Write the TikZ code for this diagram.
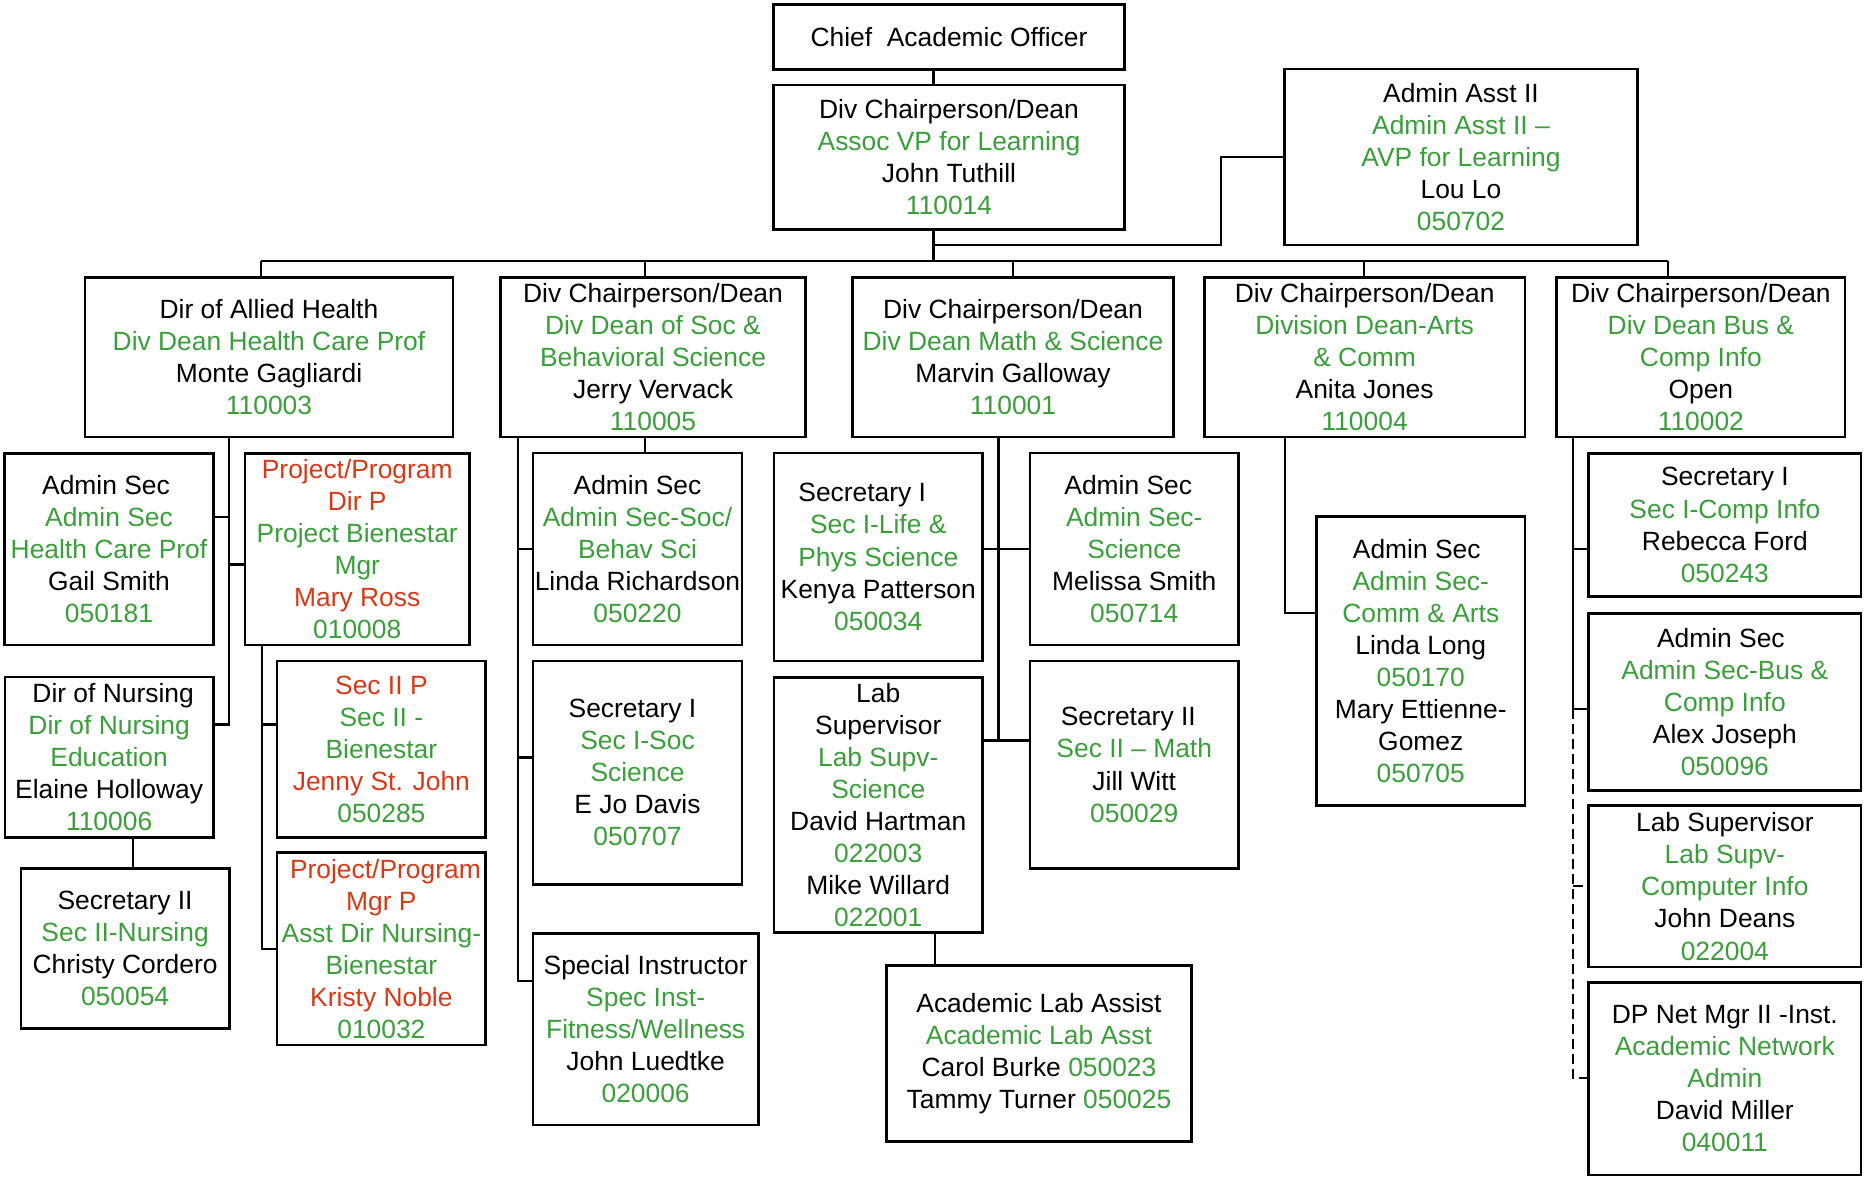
\documentclass[tikz,border=0pt]{standalone}
\usepackage{fontspec}
\setmainfont{Liberation Sans}
\definecolor{ogreen}{RGB}{58,158,58}
\definecolor{ored}{RGB}{216,56,22}
\newcommand\gtxt[1]{\textcolor{ogreen}{#1}}
\newcommand\rtxt[1]{\textcolor{ored}{#1}}
\newcommand\obox[6]{\node[obox, minimum width={(#4-#2)*0.5pt}, minimum height={(#5-#3)*0.5pt}] (#1) at ({(#2+#4)/2},{(#3+#5)/2}) {#6};}
\begin{document}
\begin{tikzpicture}[x=0.5pt,y=-0.5pt,
  obox/.style={draw, line width=1.4pt, inner sep=0pt, align=center, font=\fontsize{13.2}{16.05}\selectfont},
  conn/.style={line width=1.1pt},
  dconn/.style={line width=1.1pt, dash pattern=on 5pt off 2.5pt}]
\useasboundingbox (0,0) rectangle (1865,1177);
% top
\obox{cao}{773.4}{4.7}{1124.6}{69.3}{Chief~~Academic Officer}
\obox{tut}{773.4}{85}{1124.6}{229.3}{Div Chairperson/Dean\\\gtxt{Assoc VP for Learning}\\John Tuthill\\\gtxt{110014}}
\obox{lou}{1284.7}{69}{1637.2}{245}{Admin Asst II\\\gtxt{Admin Asst II –}\\\gtxt{AVP for Learning}\\Lou Lo\\\gtxt{050702}}
% second level
\obox{ah}{85}{277.3}{453}{437}{Dir of Allied Health\\\gtxt{Div Dean Health Care Prof}\\Monte Gagliardi\\\gtxt{110003}}
\obox{soc}{500.7}{277.3}{805.3}{437}{Div Chairperson/Dean\\\gtxt{Div Dean of Soc \&}\\\gtxt{Behavioral Science}\\Jerry Vervack\\\gtxt{110005}}
\obox{math}{852.7}{277.3}{1173.3}{437}{Div Chairperson/Dean\\\gtxt{Div Dean Math \& Science}\\Marvin Galloway\\\gtxt{110001}}
\obox{arts}{1204.3}{277.3}{1525}{437}{Div Chairperson/Dean\\\gtxt{Division Dean-Arts}\\\gtxt{\& Comm}\\Anita Jones\\\gtxt{110004}}
\obox{bus}{1556.7}{277.3}{1845}{437}{Div Chairperson/Dean\\\gtxt{Div Dean Bus \&}\\\gtxt{Comp Info}\\Open\\\gtxt{110002}}
% allied health
\obox{ash}{4.7}{453.3}{213.3}{645}{Admin Sec\hspace*{3pt}\\\gtxt{Admin Sec}\\\gtxt{Health Care Prof}\\Gail Smith\\\gtxt{050181}}
\obox{ppd}{245}{453.3}{469.5}{645}{\rtxt{Project/Program}\\\rtxt{Dir P}\\\gtxt{Project Bienestar}\\\gtxt{Mgr}\\\rtxt{Mary Ross}\\\gtxt{010008}}
\obox{dn}{5}{677}{213.3}{837.3}{\hspace*{4pt}Dir of Nursing\\\gtxt{Dir of Nursing}\\\gtxt{Education}\\Elaine Holloway\\\gtxt{110006}}
\obox{s2n}{21}{868.8}{229.2}{1028.6}{Secretary II\\\gtxt{Sec II-Nursing}\\Christy Cordero\\\gtxt{050054}}
\obox{s2p}{277}{661}{485.8}{837.3}{\rtxt{Sec II P}\\\gtxt{Sec II -}\\\gtxt{Bienestar}\\\rtxt{Jenny St. John}\\\gtxt{050285}}
\obox{ppm}{277}{852.8}{485.8}{1045}{\hspace*{4pt}\rtxt{Project/Program}\\\rtxt{Mgr P}\\\gtxt{Asst Dir Nursing-}\\\gtxt{Bienestar}\\\rtxt{Kristy Noble}\\\gtxt{010032}}
% soc
\obox{ass}{533}{453}{742}{645}{Admin Sec\\\gtxt{Admin Sec-Soc/}\\\gtxt{Behav Sci}\\Linda Richardson\\\gtxt{050220}}
\obox{s1s}{533}{661}{742}{884.3}{Secretary I\hspace*{5pt}\\\gtxt{Sec I-Soc}\hspace*{3pt}\\\gtxt{Science}\hspace*{10pt}\\E Jo Davis\\\gtxt{050707}}
\obox{spi}{533}{933.6}{758.3}{1125}{Special Instructor\\\gtxt{Spec Inst-}\\\gtxt{Fitness/Wellness}\\John Luedtke\\\gtxt{020006}}
% math
\obox{s1l}{774}{453}{982.5}{661}{Secretary I\hspace*{16pt}\\\gtxt{Sec I-Life \&}\hspace*{4pt}\\\gtxt{Phys Science}\\Kenya Patterson\\\gtxt{050034}}
\obox{lab}{774}{677.4}{982.5}{932.7}{Lab\\Supervisor\hspace*{5pt}\\\gtxt{Lab Supv-}\\\gtxt{Science}\\David Hartman\\\gtxt{022003}\\Mike Willard\\\gtxt{022001}}
\obox{ala}{886.4}{965.2}{1191.5}{1141.5}{Academic Lab Assist\\\gtxt{Academic Lab Asst}\hspace*{6pt}\\Carol Burke \gtxt{050023}\\Tammy Turner \gtxt{050025}}
\obox{asm}{1030}{453}{1238.5}{645}{Admin Sec\hspace*{6pt}\\\gtxt{Admin Sec-}\\\gtxt{Science}\\Melissa Smith\\\gtxt{050714}}
\obox{s2m}{1030}{661}{1238.5}{868.8}{Secretary II\hspace*{6pt}\\\gtxt{Sec II – Math}\\Jill Witt\\\gtxt{050029}}
% arts
\obox{asc}{1316.5}{516.5}{1525}{805.8}{Admin Sec\hspace*{4pt}\\\gtxt{Admin Sec-}\\\gtxt{Comm \& Arts}\\Linda Long\\\gtxt{050170}\\Mary Ettienne-\\Gomez\\\gtxt{050705}}
% bus
\obox{s1c}{1588.7}{453.3}{1861}{596.7}{Secretary I\\\gtxt{Sec I-Comp Info}\\Rebecca Ford\\\gtxt{050243}}
\obox{asb}{1588.7}{613.3}{1861}{790.3}{Admin Sec\hspace*{4pt}\\\gtxt{Admin Sec-Bus \&}\\\gtxt{Comp Info}\\Alex Joseph\\\gtxt{050096}}
\obox{lsc}{1588.7}{805.8}{1861}{967}{Lab Supervisor\\\gtxt{Lab Supv-}\\\gtxt{Computer Info}\\John Deans\\\gtxt{022004}}
\obox{dpn}{1588.7}{982.4}{1861}{1175}{DP Net Mgr II -Inst.\\\gtxt{Academic Network}\\\gtxt{Admin}\\David Miller\\\gtxt{040011}}
% ---- connectors
\coordinate (sp) at (933.5,261);
\draw[conn] (cao.south -| sp) -- (tut.north -| sp);
\draw[conn] (tut.south -| sp) -- (sp);
\coordinate (louK) at (1220.6,245);
\draw[conn] (lou.west) -- (lou.west -| louK) -- (louK) -- (louK -| sp);
\coordinate (busL) at (261,261);
\coordinate (busR) at (1668.3,261);
\draw[conn] (busL) -- (busR);
\draw[conn] (busL) -- (busL |- ah.north);
\coordinate (bsoc) at (645,261);
\draw[conn] (bsoc) -- (bsoc |- soc.north);
\coordinate (bmath) at (1013.3,261);
\draw[conn] (bmath) -- (bmath |- math.north);
\coordinate (barts) at (1364.3,261);
\draw[conn] (barts) -- (barts |- arts.north);
\draw[conn] (busR) -- (busR |- bus.north);
% allied health
\coordinate (ahX) at (229,724.4);
\draw[conn] (ahX |- ah.south) -- (ahX) -- (ahX -| dn.east);
\coordinate (ahA) at (229,516.6);
\draw[conn] (ahA) -- (ahA -| ash.east);
\coordinate (ahB) at (229,564.5);
\draw[conn] (ahB) -- (ahB -| ppd.west);
\coordinate (dnX) at (133,850);
\draw[conn] (dn.south -| dnX) -- (s2n.north -| dnX);
\coordinate (ppX) at (261.6,948.7);
\draw[conn] (ppX |- ppd.south) -- (ppX) -- (ppX -| ppm.west);
\coordinate (ppA) at (261.6,724.4);
\draw[conn] (ppA) -- (ppA -| s2p.west);
% soc
\draw[conn] (soc.south -| bsoc) -- (ass.north -| bsoc);
\coordinate (socX) at (518,980.7);
\draw[conn] (socX |- soc.south) -- (socX) -- (socX -| spi.west);
\coordinate (socA) at (518,549);
\draw[conn] (socA) -- (socA -| ass.west);
\coordinate (socB) at (518,757.4);
\draw[conn] (socB) -- (socB -| s1s.west);
% math
\coordinate (mX) at (998.5,740.4);
\draw[conn] (mX |- math.south) -- (mX);
\draw[conn] (mX -| lab.east) -- (mX -| s2m.west);
\coordinate (mA) at (998.5,549);
\draw[conn] (mA -| s1l.east) -- (mA -| asm.west);
\coordinate (labX) at (934.6,950);
\draw[conn] (lab.south -| labX) -- (ala.north -| labX);
% arts
\coordinate (aX) at (1285,613);
\draw[conn] (aX |- arts.south) -- (aX) -- (aX -| asc.west);
% business
\coordinate (bX) at (1573.3,709);
\draw[conn] (bX |- bus.south) -- (bX) -- (bX -| asb.west);
\coordinate (bA) at (1573.3,549);
\draw[conn] (bA) -- (bA -| s1c.west);
\coordinate (bY) at (1573.3,1078.3);
\draw[dconn] (bX) -- (bY) -- (bY -| dpn.west);
\coordinate (bB) at (1573.3,885.6);
\draw[dconn] (bB) -- (bB -| lsc.west);
\end{tikzpicture}
\end{document}
